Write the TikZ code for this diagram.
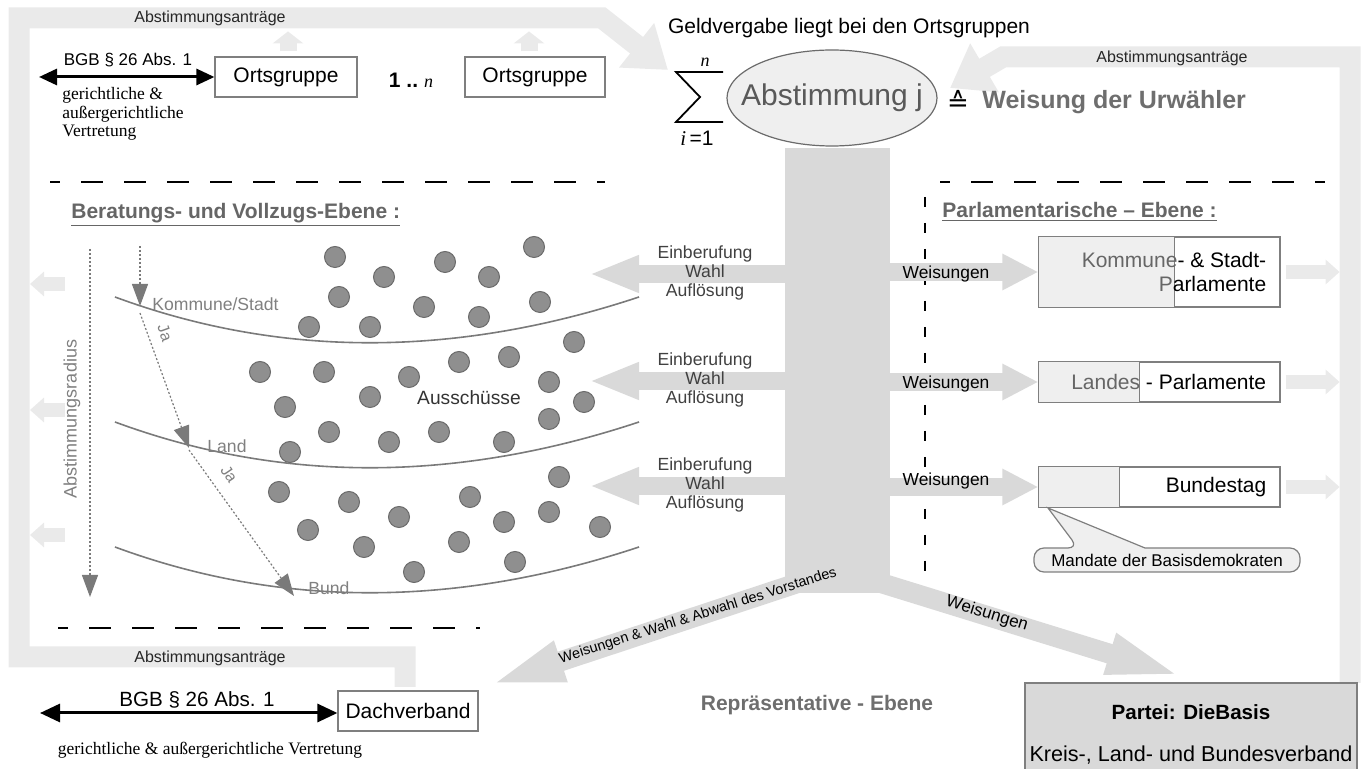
\documentclass[tikz,border=0pt]{standalone}
\usepackage{fontspec}
\setmainfont{Liberation Sans}
\newfontfamily\seriffont{Liberation Serif}
\newfontfamily\symbolfont{DejaVu Sans}
\usetikzlibrary{arrows.meta, calc, positioning, shapes.geometric}

\definecolor{bandgray}{HTML}{EAEAEA}
\definecolor{trunkgray}{HTML}{D9D9D9}
\definecolor{dotgray}{HTML}{8F8F8F}
\definecolor{dotline}{HTML}{6B6B6B}
\definecolor{curvegray}{HTML}{7A7A7A}
\definecolor{titlegray}{HTML}{666666}
\definecolor{lightfill}{HTML}{EFEFEF}
\definecolor{boxline}{HTML}{7F7F7F}
\definecolor{textdark}{HTML}{404040}

\newcommand{\fsz}[2]{\fontsize{#1}{#2}\selectfont}

\tikzset{
  band/.style={bandgray, line width=10.5pt, line join=miter},
  bandarrow/.style={band, -{Triangle[length=20pt,width=27pt]}},
  smallarrow/.style={bandgray, line width=7pt, -{Triangle[length=7pt,width=12pt]}},
  uparrow/.style={bandgray, line width=8.5pt, -{Triangle[length=6pt,width=15pt]}},
  flowarrow/.style={trunkgray, line width=9pt, -{Triangle[length=#1,width=17pt]}},
  flowarrow/.default=18pt,
  branch/.style={trunkgray, line width=10pt, -{Triangle[length=41pt,width=18pt]}},
  sepline/.style={black, line width=1pt, dash pattern=on 11pt off 10.5pt},
  vsepline/.style={black, line width=1pt, dash pattern=on 5pt off 8pt},
  radarrow/.style={curvegray, line width=0.6pt, dash pattern=on 1pt off 1pt, -{Triangle[length=11pt,width=8pt]}},
  level/.style={curvegray, line width=0.8pt},
  ausdot/.style={fill=dotgray, draw=dotline, line width=0.5pt},
  plainbox/.style={draw=boxline, fill=white, line width=0.6pt, inner sep=0,
    minimum height=20pt, font=\fsz{10.5pt}{12pt}},
  parlbox/.style={draw=boxline, fill=white, line width=0.6pt, inner sep=0, minimum width=120.5pt},
  lbl/.style={inner sep=0, font=\fsz{#1}{1.15\dimexpr#1\relax}},
  antrag/.style={inner sep=0, font=\fsz{8pt}{9pt}, text=black!85},
  einlbl/.style={inner sep=0, align=center, font=\fsz{8.8pt}{9.5pt}, text=textdark},
  weislbl/.style={inner sep=0, font=\fsz{8.7pt}{10pt}, text=black},
  sectitle/.style={inner sep=0, anchor=west, font=\fsz{10.5pt}{12pt}\bfseries, text=titlegray},
  graylbl/.style={inner sep=0, anchor=west, font=\fsz{8.8pt}{10pt}, text=gray},
}

\begin{document}
\begin{tikzpicture}[x=0.5pt, y=-0.5pt]
  \useasboundingbox (0,0) rectangle (1367,769);

  % frame bands with Abstimmungsantraege
  \draw[bandarrow] (405,687) -- (405,657) -- (19,657) -- (19,18) -- (602,18) -- (668,70);
  \draw[bandarrow] (1350,683) -- (1350,57) -- (1003,57) -- (950,88);
  \node[antrag] (ant1) at (210,18) {Abstimmungsanträge};
  \node[antrag] (ant2) at (1172,58) {Abstimmungsanträge};
  \node[antrag] (ant3) at (210,658) {Abstimmungsanträge};

  % Ortsgruppen
  \node[plainbox, minimum width=71pt] (og1) at (286,77) {Ortsgruppe};
  \node[plainbox, minimum width=70pt] (og2) at (535,77) {Ortsgruppe};
  \node[inner sep=0] (dots) at (411,80) {\fsz{10.5pt}{12pt}\bfseries 1 ..~\seriffont\mdseries\itshape\fsz{9pt}{10pt}n};
  \draw[uparrow] ([xshift=1pt,yshift=2.5pt]og1.north) -- ([xshift=1pt,yshift=12.5pt]og1.north);
  \draw[uparrow] ([xshift=-3pt,yshift=2.5pt]og2.north) -- ([xshift=-3pt,yshift=12.5pt]og2.north);
  \coordinate (bgbl) at (39,77);
  \draw[line width=1.5pt, {Triangle[length=9pt,width=8pt]}-{Triangle[length=9pt,width=8pt]}] (bgbl) -- (og1.west);
  \node[lbl=8.5pt] (bgb1) at (128,60) {BGB § 26 Abs. 1};
  \node[inner sep=0, anchor=north west, align=left, font=\seriffont\fsz{8.75pt}{9.25pt}] (vert1) at (62,87)
    {gerichtliche \&\\außergerichtliche\\Vertretung};

  % Abstimmung
  \node[lbl=10.5pt] (geld) at (849,28) {Geldvergabe liegt bei den Ortsgruppen};
  \draw[line width=0.9pt] (723,72) -- (676,72) -- (700,97) -- (676,122) -- (723,122);
  \node[inner sep=0, font=\seriffont\itshape\fsz{9pt}{10pt}] (sumn) at (705,62) {n};
  \node[inner sep=0, font=\fsz{10.5pt}{12pt}] (sumi) at (697,138) {{\seriffont\itshape i}\,=1};
  \node[ellipse, draw=dotline, fill=lightfill, line width=0.6pt, minimum width=105pt, minimum height=48pt, inner sep=0] (abst) at (832,98) {};
  \node[inner sep=0, font=\fsz{15pt}{17pt}, text=black!65] (absttxt) at (abst) {Abstimmung j};
  \node[inner sep=0, font=\symbolfont\fsz{13pt}{14pt}] (entspr) at (958,101) {≙};
  \node[inner sep=0, anchor=west, font=\fsz{12.5pt}{14pt}\bfseries, text=black!57] (urw) at (982,102) {Weisung der Urwähler};

  % separators
  \draw[sepline, dash phase=6pt] (50,182) -- (605,182);
  \draw[sepline, dash phase=6pt] (940,182) -- (1325,182);
  \draw[sepline, dash phase=6pt] (58,628) -- (480,628);
  \draw[vsepline] (925,197) -- (925,578);
  \node[sectitle] (bvtitle) at (71,215) {\underline{Beratungs- und Vollzugs-Ebene :}};
  \node[sectitle] (pltitle) at (942,212) {\underline{Parlamentarische – Ebene :}};

  % levels
  \foreach \dy in {0,125,250}
    \draw[level] (115,297+\dy) .. controls (280,358+\dy) and (455,358+\dy) .. (639,297+\dy);
  \node[graylbl] (kst) at (152,304) {Kommune/Stadt};
  \node[graylbl] (land) at (207,446) {Land};
  \node[graylbl] (bund) at (308,588) {Bund};
  \draw[radarrow] (90,249) -- (90,597);
  \node[inner sep=0, rotate=90, font=\fsz{9pt}{10pt}, text=gray] (radius) at (72,419) {Abstimmungsradius};
  \draw[radarrow] (140,246) -- (140,306);
  \draw[radarrow] (140,313) -- (189,448);
  \draw[radarrow] (189,450) -- (294,596);
  \node[inner sep=0, rotate=-70, font=\fsz{8pt}{9pt}, text=gray] (ja1) at (165,333) {Ja};
  \node[inner sep=0, rotate=-56, font=\fsz{8pt}{9pt}, text=gray] (ja2) at (229,474) {Ja};
  \foreach \p in {(335,257),(384,277),(445,262),(489,277),(534,247),(339,297),(424,307),(479,317),(540,302),(309,327),(370,327),
                  (574,342),(260,372),(324,372),(409,377),(459,362),(509,357),(549,382),(285,407),(370,397),(584,402),(549,419),(329,432),(389,442),(439,432),(504,442),(290,452),
                  (279,492),(349,502),(470,497),(559,477),(399,517),(308,530),(504,522),(549,512),(600,527),(364,547),(459,542),(414,572),(515,562)}
    \draw[ausdot] \p circle[radius=5.25pt];
  \node[inner sep=0, font=\fsz{9.6pt}{11pt}, text=black!80] (aus) at (469,398) {Ausschüsse};
  \foreach \y in {284,410,535}
    \draw[smallarrow] (65,\y) -- (30,\y);

  % trunk and its arrows
  \node[fill=trunkgray, minimum width=52.5pt, minimum height=222.5pt, inner sep=0] (trunk) at (837.5,370.5) {};
  \coordinate (ein1) at (589,274);
  \coordinate (ein2) at (589,381);
  \coordinate (ein3) at (589,486);
  \foreach \e in {ein1,ein2,ein3}
    \draw[flowarrow=25pt] (\e -| trunk.west) -- (\e);
  \node[einlbl] (ein1txt) at (705,273) {Einberufung\\Wahl\\Auflösung};
  \node[einlbl] (ein2txt) at (705,380) {Einberufung\\Wahl\\Auflösung};
  \node[einlbl] (ein3txt) at (705,485) {Einberufung\\Wahl\\Auflösung};

  % parliaments
  \node[parlbox, minimum height=35pt] (kp1) at (1159.5,272) {};
  \node[parlbox, minimum height=20pt] (kp2) at (1159.5,382) {};
  \node[parlbox, minimum height=20pt] (kp3) at (1159.5,487) {};
  \draw[draw=boxline, fill=lightfill, line width=0.6pt] (kp1.north west) rectangle ([xshift=68pt]kp1.south west);
  \draw[draw=boxline, fill=lightfill, line width=0.6pt] (kp2.north west) rectangle ([xshift=50.5pt]kp2.south west);
  \draw[draw=boxline, fill=lightfill, line width=0.6pt] (kp3.north west) rectangle ([xshift=40.5pt]kp3.south west);
  \node[inner sep=0, anchor=east, align=right, font=\fsz{10.5pt}{12pt}] (kp1txt) at ([xshift=-7pt]kp1.east)
    {{\color{titlegray}Kommune}- \& Stadt-\\{\color{titlegray}P}arlamente};
  \node[inner sep=0, anchor=east, font=\fsz{10.5pt}{12pt}] (kp2txt) at ([xshift=-7pt]kp2.east)
    {{\color{titlegray}Landes} - Parlamente};
  \node[inner sep=0, anchor=east, font=\fsz{10.5pt}{12pt}] (kp3txt) at ([xshift=-7pt]kp3.east) {Bundestag};
  \foreach \k in {kp1,kp2,kp3} {
    \draw[flowarrow] (\k.west -| trunk.east) -- (\k.west);
    \draw[smallarrow] ([xshift=2.5pt]\k.east) -- ([xshift=29.5pt]\k.east);
  }
  \node[weislbl] (w1) at (946,274) {Weisungen};
  \node[weislbl] (w2) at (946,384) {Weisungen};
  \node[weislbl] (w3) at (946,481) {Weisungen};
  \draw[draw=boxline, fill=lightfill, line width=0.6pt] (1078,548) -- (1048,508) -- (1145,548)
    [rounded corners=5pt] -- (1300,548) -- (1300,572) -- (1034,572) -- (1034,548) -- cycle;
  \node[inner sep=0, font=\fsz{8.5pt}{10pt}] (mand) at (1167,560) {Mandate der Basisdemokraten};

  % representative level
  \node[plainbox, minimum width=70pt] (dach) at (408,711) {Dachverband};
  \node[draw=boxline, fill=trunkgray, line width=0.6pt, minimum width=166pt, minimum height=45pt, inner sep=0] (partei) at (1191,728) {};
  \node[inner sep=0, font=\fsz{10.3pt}{12pt}\bfseries] (partei1) at (1191,712) {Partei: DieBasis};
  \node[inner sep=0, font=\fsz{10.8pt}{12pt}] (partei2) at (1191,755) {Kreis-, Land- und Bundesverband};
  \coordinate (dachtip) at (483,687);
  \coordinate (parteitip) at (1188,678);
  \draw[branch] (822,575) -- (dachtip);
  \draw[branch] (855,575) -- (parteitip);
  \node[inner sep=0, rotate=17.5, font=\fsz{7.2pt}{8pt}] (wwa) at (698,616) {Weisungen \& Wahl \& Abwahl des Vorstandes};
  \node[inner sep=0, rotate=-17, font=\fsz{8.5pt}{10pt}] (wpartei) at (987,614) {Weisungen};
  \node[inner sep=0, font=\fsz{10.5pt}{12pt}\bfseries, text=black!57] (repr) at (817,705) {Repräsentative - Ebene};
  \coordinate (bgb2l) at (40,713);
  \draw[line width=1.5pt, {Triangle[length=10pt,width=9pt]}-{Triangle[length=10pt,width=9pt]}] (bgb2l) -- (dach.west |- bgb2l);
  \node[lbl=10.3pt] (bgb2) at (197,700) {BGB § 26 Abs. 1};
  \node[inner sep=0, font=\seriffont\fsz{8.75pt}{10pt}] (vert2) at (210,750) {gerichtliche \& außergerichtliche Vertretung};
\end{tikzpicture}
\end{document}
